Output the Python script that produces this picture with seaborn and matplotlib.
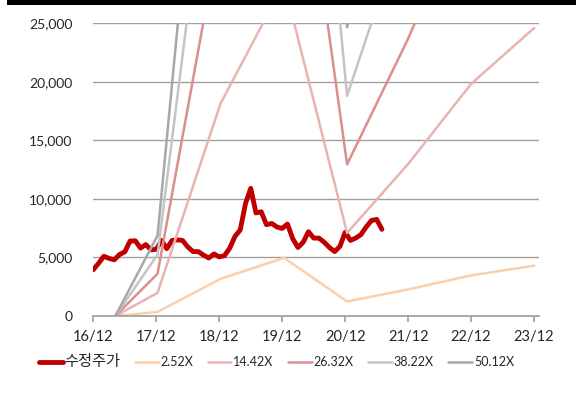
import numpy as np
import pandas as pd
import seaborn as sns
import matplotlib.pyplot as plt
from matplotlib.patches import Rectangle

sns.set_theme(style="white")
plt.rcParams['font.family'] = ['Lato', 'Noto Sans CJK KR', 'DejaVu Sans']

# monthly adjusted price, 16/12 .. 21/07
price = [3950, 4500, 5100, 4920, 4800, 5250, 5480, 6400, 6420, 5800,
         6100, 5650, 5700, 6450, 5750, 6450, 6500, 6450, 5900, 5500,
         5500, 5200, 4950, 5300, 5050, 5150, 5800, 6800, 7350, 9600,
         10900, 8800, 8900, 7800, 7900, 7600, 7480, 7850, 6600, 5850,
         6300, 7200, 6650, 6650, 6300, 5850, 5500, 5950, 7150, 6450,
         6650, 6950, 7600, 8150, 8250, 7400]
price_x = [i / 12 for i in range(len(price))]

# BPS points used for PBR bands (x in years after 16/12)
band_x = [0.35, 1.02, 2.02, 3.03, 4.03, 5.0, 6.0, 7.0]
bps = [0, 137, 1258, 1970, 492, 900, 1375, 1705]
multiples = [2.52, 14.42, 26.32, 38.22, 50.12]
band_colors = ['#FAD0AC', '#E8B4B2', '#D98F8D', '#C4C4C4', '#A8A8A8']

xticklabels = ['16/12', '17/12', '18/12', '19/12', '20/12', '21/12', '22/12', '23/12']

fig = plt.figure(figsize=(5.76, 3.94), dpi=100)
ax = fig.add_axes([0.162, 0.198, 0.774, 0.743])

sns.lineplot(x=price_x, y=price, color='#C00000', lw=3.5, label='수정주가', ax=ax,
             solid_capstyle='round', solid_joinstyle='round')
for m, c in zip(multiples, band_colors):
    vals = [m * b for b in bps]
    sns.lineplot(x=band_x, y=vals, color=c, lw=1.8, label=f'{m:.2f}X', ax=ax)

ax.set_xlim(0, 7.08)
ax.set_ylim(0, 25000)
ax.set_yticks(range(0, 25001, 5000))
ax.set_yticklabels([f'{v:,}' for v in range(0, 25001, 5000)], fontsize=10)
ax.set_xticks(range(8))
ax.set_xticklabels(xticklabels, fontsize=10.5)
ax.yaxis.grid(True, color='#A0A0A0', lw=1)
ax.set_axisbelow(True)
for s in ['left', 'right', 'top']:
    ax.spines[s].set_visible(False)
ax.spines['bottom'].set_color('#A0A0A0')
ax.tick_params(axis='x', bottom=True, length=4, color='#A0A0A0', pad=6)
ax.tick_params(axis='y', left=False, pad=9)
ax.set_xlabel('')
ax.set_ylabel('')

ax.legend_.remove()
h, l = ax.get_legend_handles_labels()
leg = fig.legend(h, l, loc='center', bbox_to_anchor=(0.48, 0.081), ncol=6, frameon=False,
                 fontsize=9, handlelength=1.9, handletextpad=0.15, columnspacing=1.15)
leg.get_texts()[0].set_fontsize(11)

# top black rule
fig.add_artist(Rectangle((0.012, 0.988), 0.988, 0.012, transform=fig.transFigure,
                         color='black', lw=0))

fig.savefig('out.png', dpi=100)
